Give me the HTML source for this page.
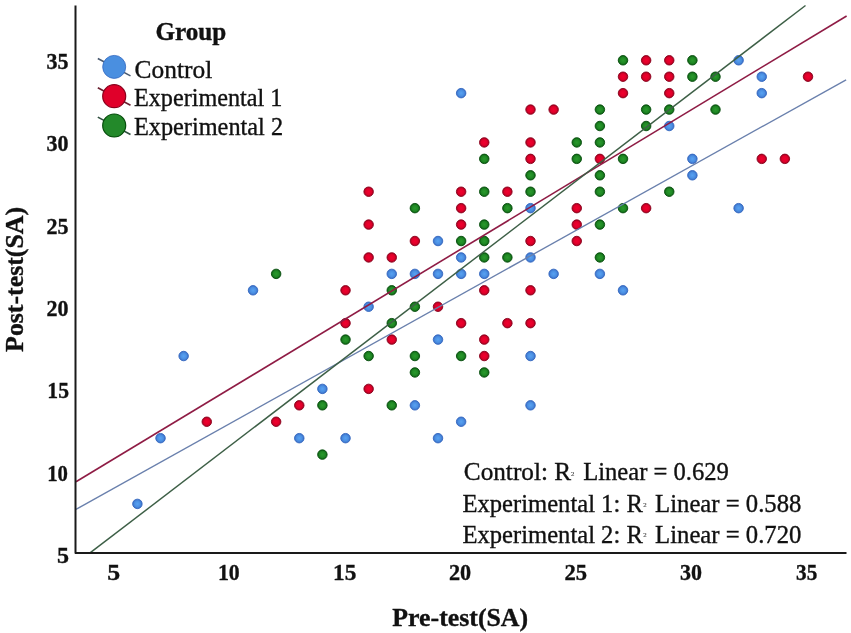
<!DOCTYPE html>
<html><head><meta charset="utf-8"><style>
html,body{margin:0;padding:0;background:#fff;}
body{width:851px;height:633px;overflow:hidden;}
svg{display:block;will-change:transform;}
text{font-family:"Liberation Serif",serif;fill:#111;stroke:#111;stroke-width:0.35px;}
.sup{stroke-width:0.15px;}
.tk{font-size:23px;font-weight:bold;}
.lg{font-size:24.2px;}
.b{font-weight:bold;}
.an{font-size:24.2px;}
.sup{font-size:6.8px;fill:#444;stroke:#444;}
.ttl{font-size:24.5px;font-weight:bold;}
</style></head><body>
<svg width="851" height="633" viewBox="0 0 851 633">
<defs>
<radialGradient id="gb" cx="0.5" cy="0.5" r="0.5"><stop offset="0" stop-color="#58a2f2"/><stop offset="0.6" stop-color="#4b8fe2"/><stop offset="1" stop-color="#3a6fc8"/></radialGradient>
<radialGradient id="gr" cx="0.5" cy="0.5" r="0.5"><stop offset="0" stop-color="#f2002e"/><stop offset="0.6" stop-color="#e0002a"/><stop offset="1" stop-color="#a8001f"/></radialGradient>
<radialGradient id="gg" cx="0.5" cy="0.5" r="0.5"><stop offset="0" stop-color="#2a9a2c"/><stop offset="0.6" stop-color="#1f8824"/><stop offset="1" stop-color="#0d6212"/></radialGradient>
</defs>
<rect width="851" height="633" fill="#fff"/>
<g id="dots">
<circle cx="137.40" cy="503.90" r="4.75" fill="url(#gb)" stroke="#3468c0" stroke-width="0.9"/>
<circle cx="160.52" cy="438.18" r="4.75" fill="url(#gb)" stroke="#3468c0" stroke-width="0.9"/>
<circle cx="183.65" cy="356.03" r="4.75" fill="url(#gb)" stroke="#3468c0" stroke-width="0.9"/>
<circle cx="253.02" cy="290.31" r="4.75" fill="url(#gb)" stroke="#3468c0" stroke-width="0.9"/>
<circle cx="299.27" cy="438.18" r="4.75" fill="url(#gb)" stroke="#3468c0" stroke-width="0.9"/>
<circle cx="322.39" cy="388.89" r="4.75" fill="url(#gb)" stroke="#3468c0" stroke-width="0.9"/>
<circle cx="345.52" cy="438.18" r="4.75" fill="url(#gb)" stroke="#3468c0" stroke-width="0.9"/>
<circle cx="368.64" cy="306.74" r="4.75" fill="url(#gb)" stroke="#3468c0" stroke-width="0.9"/>
<circle cx="391.76" cy="273.88" r="4.75" fill="url(#gb)" stroke="#3468c0" stroke-width="0.9"/>
<circle cx="414.89" cy="273.88" r="4.75" fill="url(#gb)" stroke="#3468c0" stroke-width="0.9"/>
<circle cx="414.89" cy="405.32" r="4.75" fill="url(#gb)" stroke="#3468c0" stroke-width="0.9"/>
<circle cx="438.01" cy="241.02" r="4.75" fill="url(#gb)" stroke="#3468c0" stroke-width="0.9"/>
<circle cx="438.01" cy="273.88" r="4.75" fill="url(#gb)" stroke="#3468c0" stroke-width="0.9"/>
<circle cx="438.01" cy="339.60" r="4.75" fill="url(#gb)" stroke="#3468c0" stroke-width="0.9"/>
<circle cx="438.01" cy="438.18" r="4.75" fill="url(#gb)" stroke="#3468c0" stroke-width="0.9"/>
<circle cx="461.14" cy="93.15" r="4.75" fill="url(#gb)" stroke="#3468c0" stroke-width="0.9"/>
<circle cx="461.14" cy="257.45" r="4.75" fill="url(#gb)" stroke="#3468c0" stroke-width="0.9"/>
<circle cx="461.14" cy="273.88" r="4.75" fill="url(#gb)" stroke="#3468c0" stroke-width="0.9"/>
<circle cx="461.14" cy="421.75" r="4.75" fill="url(#gb)" stroke="#3468c0" stroke-width="0.9"/>
<circle cx="484.26" cy="273.88" r="4.75" fill="url(#gb)" stroke="#3468c0" stroke-width="0.9"/>
<circle cx="530.51" cy="208.16" r="4.75" fill="url(#gb)" stroke="#3468c0" stroke-width="0.9"/>
<circle cx="530.51" cy="257.45" r="4.75" fill="url(#gb)" stroke="#3468c0" stroke-width="0.9"/>
<circle cx="530.51" cy="356.03" r="4.75" fill="url(#gb)" stroke="#3468c0" stroke-width="0.9"/>
<circle cx="530.51" cy="405.32" r="4.75" fill="url(#gb)" stroke="#3468c0" stroke-width="0.9"/>
<circle cx="553.63" cy="273.88" r="4.75" fill="url(#gb)" stroke="#3468c0" stroke-width="0.9"/>
<circle cx="599.88" cy="273.88" r="4.75" fill="url(#gb)" stroke="#3468c0" stroke-width="0.9"/>
<circle cx="623.00" cy="290.31" r="4.75" fill="url(#gb)" stroke="#3468c0" stroke-width="0.9"/>
<circle cx="669.25" cy="126.01" r="4.75" fill="url(#gb)" stroke="#3468c0" stroke-width="0.9"/>
<circle cx="692.38" cy="158.87" r="4.75" fill="url(#gb)" stroke="#3468c0" stroke-width="0.9"/>
<circle cx="692.38" cy="175.30" r="4.75" fill="url(#gb)" stroke="#3468c0" stroke-width="0.9"/>
<circle cx="738.62" cy="60.29" r="4.75" fill="url(#gb)" stroke="#3468c0" stroke-width="0.9"/>
<circle cx="761.75" cy="76.72" r="4.75" fill="url(#gb)" stroke="#3468c0" stroke-width="0.9"/>
<circle cx="761.75" cy="93.15" r="4.75" fill="url(#gb)" stroke="#3468c0" stroke-width="0.9"/>
<circle cx="738.62" cy="208.16" r="4.75" fill="url(#gb)" stroke="#3468c0" stroke-width="0.9"/>
<circle cx="206.77" cy="421.75" r="4.75" fill="url(#gr)" stroke="#8a001c" stroke-width="0.9"/>
<circle cx="276.14" cy="421.75" r="4.75" fill="url(#gr)" stroke="#8a001c" stroke-width="0.9"/>
<circle cx="299.27" cy="405.32" r="4.75" fill="url(#gr)" stroke="#8a001c" stroke-width="0.9"/>
<circle cx="345.52" cy="290.31" r="4.75" fill="url(#gr)" stroke="#8a001c" stroke-width="0.9"/>
<circle cx="345.52" cy="323.17" r="4.75" fill="url(#gr)" stroke="#8a001c" stroke-width="0.9"/>
<circle cx="368.64" cy="191.73" r="4.75" fill="url(#gr)" stroke="#8a001c" stroke-width="0.9"/>
<circle cx="368.64" cy="224.59" r="4.75" fill="url(#gr)" stroke="#8a001c" stroke-width="0.9"/>
<circle cx="368.64" cy="257.45" r="4.75" fill="url(#gr)" stroke="#8a001c" stroke-width="0.9"/>
<circle cx="368.64" cy="388.89" r="4.75" fill="url(#gr)" stroke="#8a001c" stroke-width="0.9"/>
<circle cx="391.76" cy="257.45" r="4.75" fill="url(#gr)" stroke="#8a001c" stroke-width="0.9"/>
<circle cx="391.76" cy="339.60" r="4.75" fill="url(#gr)" stroke="#8a001c" stroke-width="0.9"/>
<circle cx="414.89" cy="241.02" r="4.75" fill="url(#gr)" stroke="#8a001c" stroke-width="0.9"/>
<circle cx="438.01" cy="306.74" r="4.75" fill="url(#gr)" stroke="#8a001c" stroke-width="0.9"/>
<circle cx="461.14" cy="191.73" r="4.75" fill="url(#gr)" stroke="#8a001c" stroke-width="0.9"/>
<circle cx="461.14" cy="208.16" r="4.75" fill="url(#gr)" stroke="#8a001c" stroke-width="0.9"/>
<circle cx="461.14" cy="224.59" r="4.75" fill="url(#gr)" stroke="#8a001c" stroke-width="0.9"/>
<circle cx="461.14" cy="323.17" r="4.75" fill="url(#gr)" stroke="#8a001c" stroke-width="0.9"/>
<circle cx="484.26" cy="142.44" r="4.75" fill="url(#gr)" stroke="#8a001c" stroke-width="0.9"/>
<circle cx="484.26" cy="290.31" r="4.75" fill="url(#gr)" stroke="#8a001c" stroke-width="0.9"/>
<circle cx="484.26" cy="339.60" r="4.75" fill="url(#gr)" stroke="#8a001c" stroke-width="0.9"/>
<circle cx="484.26" cy="356.03" r="4.75" fill="url(#gr)" stroke="#8a001c" stroke-width="0.9"/>
<circle cx="507.38" cy="191.73" r="4.75" fill="url(#gr)" stroke="#8a001c" stroke-width="0.9"/>
<circle cx="507.38" cy="323.17" r="4.75" fill="url(#gr)" stroke="#8a001c" stroke-width="0.9"/>
<circle cx="530.51" cy="109.58" r="4.75" fill="url(#gr)" stroke="#8a001c" stroke-width="0.9"/>
<circle cx="530.51" cy="142.44" r="4.75" fill="url(#gr)" stroke="#8a001c" stroke-width="0.9"/>
<circle cx="530.51" cy="158.87" r="4.75" fill="url(#gr)" stroke="#8a001c" stroke-width="0.9"/>
<circle cx="530.51" cy="241.02" r="4.75" fill="url(#gr)" stroke="#8a001c" stroke-width="0.9"/>
<circle cx="530.51" cy="290.31" r="4.75" fill="url(#gr)" stroke="#8a001c" stroke-width="0.9"/>
<circle cx="530.51" cy="323.17" r="4.75" fill="url(#gr)" stroke="#8a001c" stroke-width="0.9"/>
<circle cx="553.63" cy="109.58" r="4.75" fill="url(#gr)" stroke="#8a001c" stroke-width="0.9"/>
<circle cx="576.76" cy="208.16" r="4.75" fill="url(#gr)" stroke="#8a001c" stroke-width="0.9"/>
<circle cx="576.76" cy="224.59" r="4.75" fill="url(#gr)" stroke="#8a001c" stroke-width="0.9"/>
<circle cx="576.76" cy="241.02" r="4.75" fill="url(#gr)" stroke="#8a001c" stroke-width="0.9"/>
<circle cx="599.88" cy="158.87" r="4.75" fill="url(#gr)" stroke="#8a001c" stroke-width="0.9"/>
<circle cx="623.00" cy="76.72" r="4.75" fill="url(#gr)" stroke="#8a001c" stroke-width="0.9"/>
<circle cx="623.00" cy="93.15" r="4.75" fill="url(#gr)" stroke="#8a001c" stroke-width="0.9"/>
<circle cx="646.13" cy="60.29" r="4.75" fill="url(#gr)" stroke="#8a001c" stroke-width="0.9"/>
<circle cx="646.13" cy="76.72" r="4.75" fill="url(#gr)" stroke="#8a001c" stroke-width="0.9"/>
<circle cx="669.25" cy="60.29" r="4.75" fill="url(#gr)" stroke="#8a001c" stroke-width="0.9"/>
<circle cx="669.25" cy="76.72" r="4.75" fill="url(#gr)" stroke="#8a001c" stroke-width="0.9"/>
<circle cx="669.25" cy="93.15" r="4.75" fill="url(#gr)" stroke="#8a001c" stroke-width="0.9"/>
<circle cx="646.13" cy="208.16" r="4.75" fill="url(#gr)" stroke="#8a001c" stroke-width="0.9"/>
<circle cx="761.75" cy="158.87" r="4.75" fill="url(#gr)" stroke="#8a001c" stroke-width="0.9"/>
<circle cx="784.87" cy="158.87" r="4.75" fill="url(#gr)" stroke="#8a001c" stroke-width="0.9"/>
<circle cx="808.00" cy="76.72" r="4.75" fill="url(#gr)" stroke="#8a001c" stroke-width="0.9"/>
<circle cx="276.14" cy="273.88" r="4.75" fill="url(#gg)" stroke="#064d0c" stroke-width="0.9"/>
<circle cx="322.39" cy="405.32" r="4.75" fill="url(#gg)" stroke="#064d0c" stroke-width="0.9"/>
<circle cx="322.39" cy="454.61" r="4.75" fill="url(#gg)" stroke="#064d0c" stroke-width="0.9"/>
<circle cx="345.52" cy="339.60" r="4.75" fill="url(#gg)" stroke="#064d0c" stroke-width="0.9"/>
<circle cx="368.64" cy="356.03" r="4.75" fill="url(#gg)" stroke="#064d0c" stroke-width="0.9"/>
<circle cx="391.76" cy="290.31" r="4.75" fill="url(#gg)" stroke="#064d0c" stroke-width="0.9"/>
<circle cx="391.76" cy="323.17" r="4.75" fill="url(#gg)" stroke="#064d0c" stroke-width="0.9"/>
<circle cx="391.76" cy="405.32" r="4.75" fill="url(#gg)" stroke="#064d0c" stroke-width="0.9"/>
<circle cx="414.89" cy="208.16" r="4.75" fill="url(#gg)" stroke="#064d0c" stroke-width="0.9"/>
<circle cx="414.89" cy="306.74" r="4.75" fill="url(#gg)" stroke="#064d0c" stroke-width="0.9"/>
<circle cx="414.89" cy="356.03" r="4.75" fill="url(#gg)" stroke="#064d0c" stroke-width="0.9"/>
<circle cx="414.89" cy="372.46" r="4.75" fill="url(#gg)" stroke="#064d0c" stroke-width="0.9"/>
<circle cx="461.14" cy="241.02" r="4.75" fill="url(#gg)" stroke="#064d0c" stroke-width="0.9"/>
<circle cx="461.14" cy="356.03" r="4.75" fill="url(#gg)" stroke="#064d0c" stroke-width="0.9"/>
<circle cx="484.26" cy="158.87" r="4.75" fill="url(#gg)" stroke="#064d0c" stroke-width="0.9"/>
<circle cx="484.26" cy="191.73" r="4.75" fill="url(#gg)" stroke="#064d0c" stroke-width="0.9"/>
<circle cx="484.26" cy="224.59" r="4.75" fill="url(#gg)" stroke="#064d0c" stroke-width="0.9"/>
<circle cx="484.26" cy="241.02" r="4.75" fill="url(#gg)" stroke="#064d0c" stroke-width="0.9"/>
<circle cx="484.26" cy="257.45" r="4.75" fill="url(#gg)" stroke="#064d0c" stroke-width="0.9"/>
<circle cx="484.26" cy="372.46" r="4.75" fill="url(#gg)" stroke="#064d0c" stroke-width="0.9"/>
<circle cx="507.38" cy="208.16" r="4.75" fill="url(#gg)" stroke="#064d0c" stroke-width="0.9"/>
<circle cx="507.38" cy="257.45" r="4.75" fill="url(#gg)" stroke="#064d0c" stroke-width="0.9"/>
<circle cx="530.51" cy="175.30" r="4.75" fill="url(#gg)" stroke="#064d0c" stroke-width="0.9"/>
<circle cx="530.51" cy="191.73" r="4.75" fill="url(#gg)" stroke="#064d0c" stroke-width="0.9"/>
<circle cx="576.76" cy="142.44" r="4.75" fill="url(#gg)" stroke="#064d0c" stroke-width="0.9"/>
<circle cx="576.76" cy="158.87" r="4.75" fill="url(#gg)" stroke="#064d0c" stroke-width="0.9"/>
<circle cx="599.88" cy="109.58" r="4.75" fill="url(#gg)" stroke="#064d0c" stroke-width="0.9"/>
<circle cx="599.88" cy="126.01" r="4.75" fill="url(#gg)" stroke="#064d0c" stroke-width="0.9"/>
<circle cx="599.88" cy="142.44" r="4.75" fill="url(#gg)" stroke="#064d0c" stroke-width="0.9"/>
<circle cx="599.88" cy="175.30" r="4.75" fill="url(#gg)" stroke="#064d0c" stroke-width="0.9"/>
<circle cx="599.88" cy="191.73" r="4.75" fill="url(#gg)" stroke="#064d0c" stroke-width="0.9"/>
<circle cx="599.88" cy="224.59" r="4.75" fill="url(#gg)" stroke="#064d0c" stroke-width="0.9"/>
<circle cx="599.88" cy="257.45" r="4.75" fill="url(#gg)" stroke="#064d0c" stroke-width="0.9"/>
<circle cx="623.00" cy="60.29" r="4.75" fill="url(#gg)" stroke="#064d0c" stroke-width="0.9"/>
<circle cx="623.00" cy="158.87" r="4.75" fill="url(#gg)" stroke="#064d0c" stroke-width="0.9"/>
<circle cx="623.00" cy="208.16" r="4.75" fill="url(#gg)" stroke="#064d0c" stroke-width="0.9"/>
<circle cx="646.13" cy="109.58" r="4.75" fill="url(#gg)" stroke="#064d0c" stroke-width="0.9"/>
<circle cx="646.13" cy="126.01" r="4.75" fill="url(#gg)" stroke="#064d0c" stroke-width="0.9"/>
<circle cx="669.25" cy="109.58" r="4.75" fill="url(#gg)" stroke="#064d0c" stroke-width="0.9"/>
<circle cx="669.25" cy="191.73" r="4.75" fill="url(#gg)" stroke="#064d0c" stroke-width="0.9"/>
<circle cx="692.38" cy="60.29" r="4.75" fill="url(#gg)" stroke="#064d0c" stroke-width="0.9"/>
<circle cx="692.38" cy="76.72" r="4.75" fill="url(#gg)" stroke="#064d0c" stroke-width="0.9"/>
<circle cx="715.50" cy="76.72" r="4.75" fill="url(#gg)" stroke="#064d0c" stroke-width="0.9"/>
<circle cx="715.50" cy="109.58" r="4.75" fill="url(#gg)" stroke="#064d0c" stroke-width="0.9"/>
</g>
<g id="reg">
<line x1="76" y1="481.8" x2="846.6" y2="16.0" stroke="#8f1c45" stroke-width="1.6"/>
<line x1="76" y1="509.3" x2="846.1" y2="79.8" stroke="#6a80ad" stroke-width="1.35"/>
<line x1="89.7" y1="553.2" x2="805.5" y2="5.5" stroke="#3d5f46" stroke-width="1.45"/>
</g>
<path id="axes" d="M75.5 5.5 L75.5 553.1 L846.5 553.1" fill="none" stroke="#1a1a1a" stroke-width="2" stroke-linejoin="round"/>
<g id="leg">
<line x1="97.8" y1="58.5" x2="130.5" y2="75.9" stroke="#4a5a70" stroke-width="1.6"/>
<circle cx="114.2" cy="66.9" r="11.5" fill="#4a8fe0" stroke="#3468c0" stroke-width="0.8"/>
<line x1="97.8" y1="87.8" x2="130.5" y2="105.2" stroke="#6a2030" stroke-width="1.6"/>
<circle cx="114.2" cy="96.2" r="11.5" fill="#e0002a" stroke="#8a001c" stroke-width="1.2"/>
<line x1="97.8" y1="117.1" x2="130.5" y2="134.5" stroke="#2f4f3f" stroke-width="1.6"/>
<circle cx="114.2" cy="125.5" r="11.5" fill="#23892a" stroke="#064d0c" stroke-width="1.2"/>
</g>
<text id="grp" x="155.50" y="40.00" class="lg b" textLength="70.84" lengthAdjust="spacingAndGlyphs">Group</text>
<text id="l1" x="134.60" y="78.00" class="lg" textLength="77.63" lengthAdjust="spacingAndGlyphs">Control</text>
<text id="l2" x="133.90" y="105.60" class="lg" textLength="148.58" lengthAdjust="spacingAndGlyphs">Experimental 1</text>
<text id="l3" x="133.90" y="135.00" class="lg" textLength="149.19" lengthAdjust="spacingAndGlyphs">Experimental 2</text>
<text id="a1a" x="463.80" y="479.80" class="an" textLength="107.29" lengthAdjust="spacingAndGlyphs">Control: R</text>
<text id="a1b" x="583.20" y="479.80" class="an" textLength="145.68" lengthAdjust="spacingAndGlyphs">Linear = 0.629</text>
<text id="a2a" x="462.50" y="511.90" class="an" textLength="180.30" lengthAdjust="spacingAndGlyphs">Experimental 1: R</text>
<text id="a2b" x="655.10" y="511.90" class="an" textLength="146.28" lengthAdjust="spacingAndGlyphs">Linear = 0.588</text>
<text id="a3a" x="462.50" y="542.90" class="an" textLength="180.30" lengthAdjust="spacingAndGlyphs">Experimental 2: R</text>
<text id="a3b" x="655.10" y="542.90" class="an" textLength="146.28" lengthAdjust="spacingAndGlyphs">Linear = 0.720</text>
<text id="tt1" x="392.30" y="625.50" class="ttl" textLength="135.85" lengthAdjust="spacingAndGlyphs">Pre-test(SA)</text>
<text id="ty35" x="46.40" y="69.10" class="tk" textLength="22.00" lengthAdjust="spacingAndGlyphs">35</text>
<text id="ty30" x="46.40" y="150.90" class="tk" textLength="22.00" lengthAdjust="spacingAndGlyphs">30</text>
<text id="ty25" x="46.40" y="233.90" class="tk" textLength="22.00" lengthAdjust="spacingAndGlyphs">25</text>
<text id="ty20" x="46.40" y="316.10" class="tk" textLength="22.00" lengthAdjust="spacingAndGlyphs">20</text>
<text id="ty15" x="47.30" y="398.30" class="tk" textLength="21.66" lengthAdjust="spacingAndGlyphs">15</text>
<text id="ty10" x="47.20" y="480.90" class="tk" textLength="20.74" lengthAdjust="spacingAndGlyphs">10</text>
<text id="ty5" x="57.00" y="562.80" class="tk" textLength="12.03" lengthAdjust="spacingAndGlyphs">5</text>
<text id="tx5" x="107.30" y="579.60" class="tk" textLength="12.92" lengthAdjust="spacingAndGlyphs">5</text>
<text id="tx10" x="217.90" y="579.60" class="tk" textLength="21.76" lengthAdjust="spacingAndGlyphs">10</text>
<text id="tx15" x="333.00" y="579.60" class="tk" textLength="23.26" lengthAdjust="spacingAndGlyphs">15</text>
<text id="tx20" x="448.90" y="579.60" class="tk" textLength="22.20" lengthAdjust="spacingAndGlyphs">20</text>
<text id="tx25" x="564.40" y="579.60" class="tk" textLength="22.59" lengthAdjust="spacingAndGlyphs">25</text>
<text id="tx30" x="679.90" y="579.60" class="tk" textLength="22.00" lengthAdjust="spacingAndGlyphs">30</text>
<text id="tx35" x="796.10" y="579.60" class="tk" textLength="21.15" lengthAdjust="spacingAndGlyphs">35</text>
<text id="s1" x="570.9" y="475.5" class="sup">2</text>
<text id="s2" x="643.2" y="506.6" class="sup">2</text>
<text id="s3" x="643.2" y="537.4" class="sup">2</text>
<text id="tt2" transform="translate(23.1,351.90) rotate(-90)" x="0" y="0" class="ttl" textLength="144.92" lengthAdjust="spacingAndGlyphs">Post-test(SA)</text>
</svg>
</body></html>
